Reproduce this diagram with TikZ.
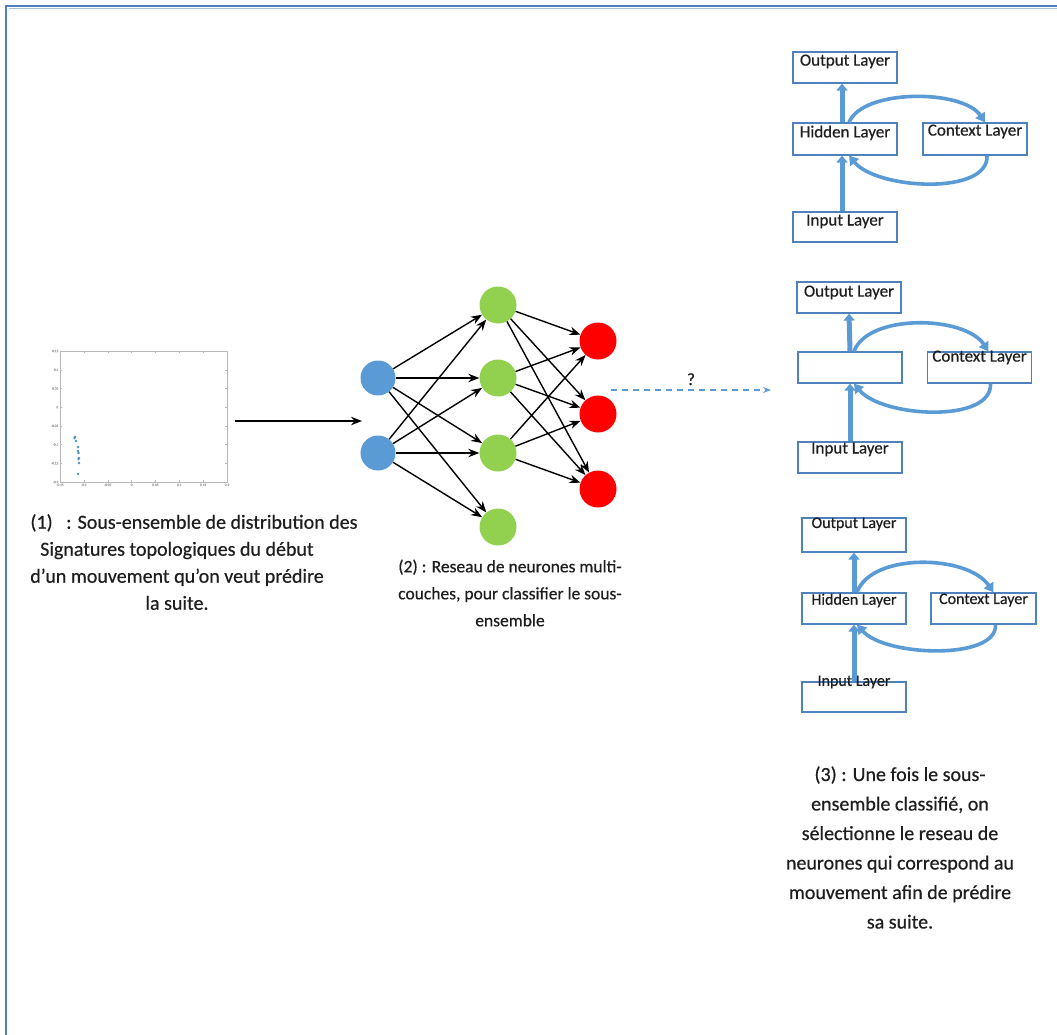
\documentclass[tikz,border=0pt]{standalone}
\usepackage{fontspec}
\setmainfont{Carlito}[FakeBold=0.5]
\usetikzlibrary{arrows.meta,calc}
\definecolor{frameblue}{RGB}{79,129,189}
\definecolor{arrblue}{RGB}{91,155,213}
\definecolor{nblue}{RGB}{91,155,213}
\definecolor{ngreen}{RGB}{146,208,80}
\definecolor{nred}{RGB}{255,0,0}
\definecolor{txt}{RGB}{30,30,30}
\definecolor{ptblue}{RGB}{31,119,180}
\begin{document}
\begin{tikzpicture}[x=1pt,y=-1pt,
  neuron/.style={circle,minimum size=35pt,inner sep=0pt,draw=none},
  conn/.style={-{Stealth[length=11pt,width=8.5pt]},line width=1.4pt,black},
  layerbox/.style={draw=frameblue,line width=1.2pt,minimum width=104pt,minimum height=31pt,inner sep=0pt,fill=white},
  lbl/.style={font=\fontsize{17}{19}\selectfont,text=txt,inner sep=1pt,anchor=north},
  lblsmall/.style={font=\fontsize{16}{18}\selectfont,text=txt,inner sep=1pt,anchor=north},
  fatarrow/.style={-{Triangle[length=7pt,width=11pt]},line width=5pt,arrblue},
  looparc/.style={-{Triangle[length=9pt,width=11pt]},line width=3.6pt,arrblue},
  caption/.style={font=\fontsize{20}{27}\selectfont,text=txt,align=center},
  ticklbl/.style={font=\fontsize{3.5}{4}\selectfont,text=gray!70,inner sep=0.5pt},
]
\useasboundingbox (0,0) rectangle (1057,1035);
\fill[white] (0,0) rectangle (1057,1035);
% frame border
\draw[frameblue!50,line width=1pt] (9,9) -- (1057,9);
\draw[frameblue,line width=2.6pt] (6,1035) -- (6,6) -- (1057,6);

% ---------- scatter plot ----------
\node[draw=gray!55,line width=0.6pt,minimum width=167pt,minimum height=131pt,inner sep=0pt] (plot) at (143.5,416.5) {};
\foreach \k/\t in {0/0.15,1/0.1,2/0.05,3/0,4/-0.05,5/-0.1,6/-0.15,7/-0.2}{
  \draw[gray!55,line width=0.4pt] (60,351+\k*18.714) -- ++(2,0);
  \draw[gray!55,line width=0.4pt] (227,351+\k*18.714) -- ++(-2,0);
  \node[ticklbl,anchor=east] at (59,351+\k*18.714) {\t};
}
\foreach \k/\t in {0/-0.15,1/-0.1,2/-0.05,3/0,4/0.05,5/0.1,6/0.15,7/0.2}{
  \draw[gray!55,line width=0.4pt] (60+\k*23.857,482) -- ++(0,-2);
  \draw[gray!55,line width=0.4pt] (60+\k*23.857,351) -- ++(0,2);
  \node[ticklbl,anchor=north] at (60+\k*23.857,483) {\t};
}
\foreach \px/\py in {75/437,74.5/438,76/441,78/447,78/451,78.5/453,79/458,78.5/459,79/463,78/474}{
  \fill[ptblue!80] (\px,\py) circle (1.3pt);
}
\coordinate (nnin) at (362,421);
\draw[conn] ([xshift=8pt,yshift=-4.5pt]plot.east) -- (nnin);

% ---------- multilayer network ----------
\node[neuron,fill=nblue] (b1) at (378,378) {};
\node[neuron,fill=nblue] (b2) at (378,453) {};
\node[neuron,fill=ngreen,minimum size=37pt] (g1) at (498,305) {};
\node[neuron,fill=ngreen,minimum size=37pt] (g2) at (498,378) {};
\node[neuron,fill=ngreen,minimum size=37pt] (g3) at (498,453) {};
\node[neuron,fill=ngreen,minimum size=37pt] (g4) at (498,527) {};
\node[neuron,fill=nred,minimum size=37pt] (r1) at (598,341) {};
\node[neuron,fill=nred,minimum size=37pt] (r2) at (598,414) {};
\node[neuron,fill=nred,minimum size=37pt] (r3) at (598,489) {};
\foreach \b in {b1,b2}{
  \foreach \g in {g1,g2,g3,g4}{
    \draw[conn] (\b) -- (\g);
  }
}
\foreach \g in {g1,g2,g3}{
  \foreach \r in {r1,r2,r3}{
    \draw[conn] (\g) -- (\r);
  }
}

% dashed arrow with question mark
\coordinate (qs) at (611,390);
\coordinate (qe) at (771,390);
\draw[arrblue,dashed,line width=1.2pt,dash pattern=on 6pt off 5pt,-{Stealth[length=8pt,width=6pt]}] (qs) -- (qe)
  node[midway,above=1pt,text=txt,font=\fontsize{17}{19}\selectfont] (qm) {?};

% ---------- Elman network 1 ----------
\node[layerbox] (o1) at (845,67.5) {};
\node[layerbox,minimum height=32pt] (h1) at (845,139) {};
\node[layerbox,minimum height=32pt] (c1) at (975,139) {};
\node[layerbox,minimum height=30pt] (i1) at (845,227) {};
\node[lbl] at ([yshift=-2pt]o1.north) {Output Layer};
\node[lbl] at ([yshift=-2pt]h1.north) {Hidden Layer};
\node[lbl] at ([yshift=-1pt]c1.north) {Context Layer};
\node[lbl] at ([yshift=-2pt]i1.north) {Input Layer};
\draw[fatarrow] ([xshift=-3pt]i1.north) -- ([xshift=-3pt]h1.south);
\draw[fatarrow] ([xshift=-3pt]h1.north) -- ([xshift=-3pt]o1.south);
\draw[looparc] ([xshift=4pt]h1.north) .. controls +(14,-34) and +(-22,-33) .. ([xshift=10pt]c1.north);
\draw[looparc] ([xshift=12pt]c1.south) .. controls +(2,40) and +(28,34) .. ([xshift=4pt]h1.south);

% ---------- Elman network 2 ----------
\node[layerbox] (o2) at (849,297.5) {};
\node[layerbox] (h2) at (850,367.5) {};
\node[layerbox] (c2) at (979.5,367.5) {};
\node[layerbox] (i2) at (850,457.5) {};
\node[lbl] at ([yshift=-3pt]o2.north) {Output Layer};
\node[lbl] at ([yshift=2pt]c2.north) {Context Layer};
\node[lbl] at ([yshift=0pt]i2.north) {Input Layer};
\draw[fatarrow] (i2.north) -- (h2.south);
\draw[fatarrow] (h2.north) -- (o2.south);
\draw[looparc] ([xshift=4pt]h2.north) .. controls +(14,-38) and +(-24,-36) .. ([xshift=9pt]c2.north);
\draw[looparc] ([xshift=11pt]c2.south) .. controls +(2,40) and +(28,34) .. ([xshift=4pt]h2.south);

% ---------- Elman network 3 ----------
\node[layerbox,minimum height=34pt] (o3) at (854,535) {};
\node[layerbox] (h3) at (854,608.5) {};
\node[layerbox,minimum width=105pt] (c3) at (983.5,608.5) {};
\node[layerbox,minimum height=30pt] (i3) at (854,697) {};
\node[lblsmall] at ([yshift=1pt]o3.north) {Output Layer};
\node[lblsmall] at ([yshift=0pt]h3.north) {Hidden Layer};
\node[lblsmall] at ([yshift=0pt]c3.north) {Context Layer};
\node[lblsmall] at ([yshift=7pt]i3.north) {Input Layer};
\draw[fatarrow] (i3.north) -- (h3.south);
\draw[fatarrow] (h3.north) -- (o3.south);
\draw[looparc] ([xshift=3pt]h3.north) .. controls +(14,-40) and +(-26,-38) .. ([xshift=10pt]c3.north);
\draw[looparc] ([xshift=12pt]c3.south) .. controls +(2,36) and +(28,32) .. ([xshift=3pt]h3.south);

% ---------- captions ----------
\node[caption] (cap1) at (177,562) {\hspace*{34pt}(1)\ \ \ : Sous-ensemble de distribution des\\Signatures topologiques du début\\d’un mouvement qu’on veut prédire\\la suite.};
\node[caption,font=\fontsize{17.5}{27}\selectfont] (cap2) at (510,593) {(2) : Reseau de neurones multi-\\couches, pour classifier le sous-\\ensemble};
\node[caption,font=\fontsize{20}{29.5}\selectfont] (cap3) at (900,847.5) {(3) : Une fois le sous-\\ensemble classifié, on\\sélectionne le reseau de\\neurones qui correspond au\\mouvement afin de prédire\\sa suite.};
\end{tikzpicture}
\end{document}
